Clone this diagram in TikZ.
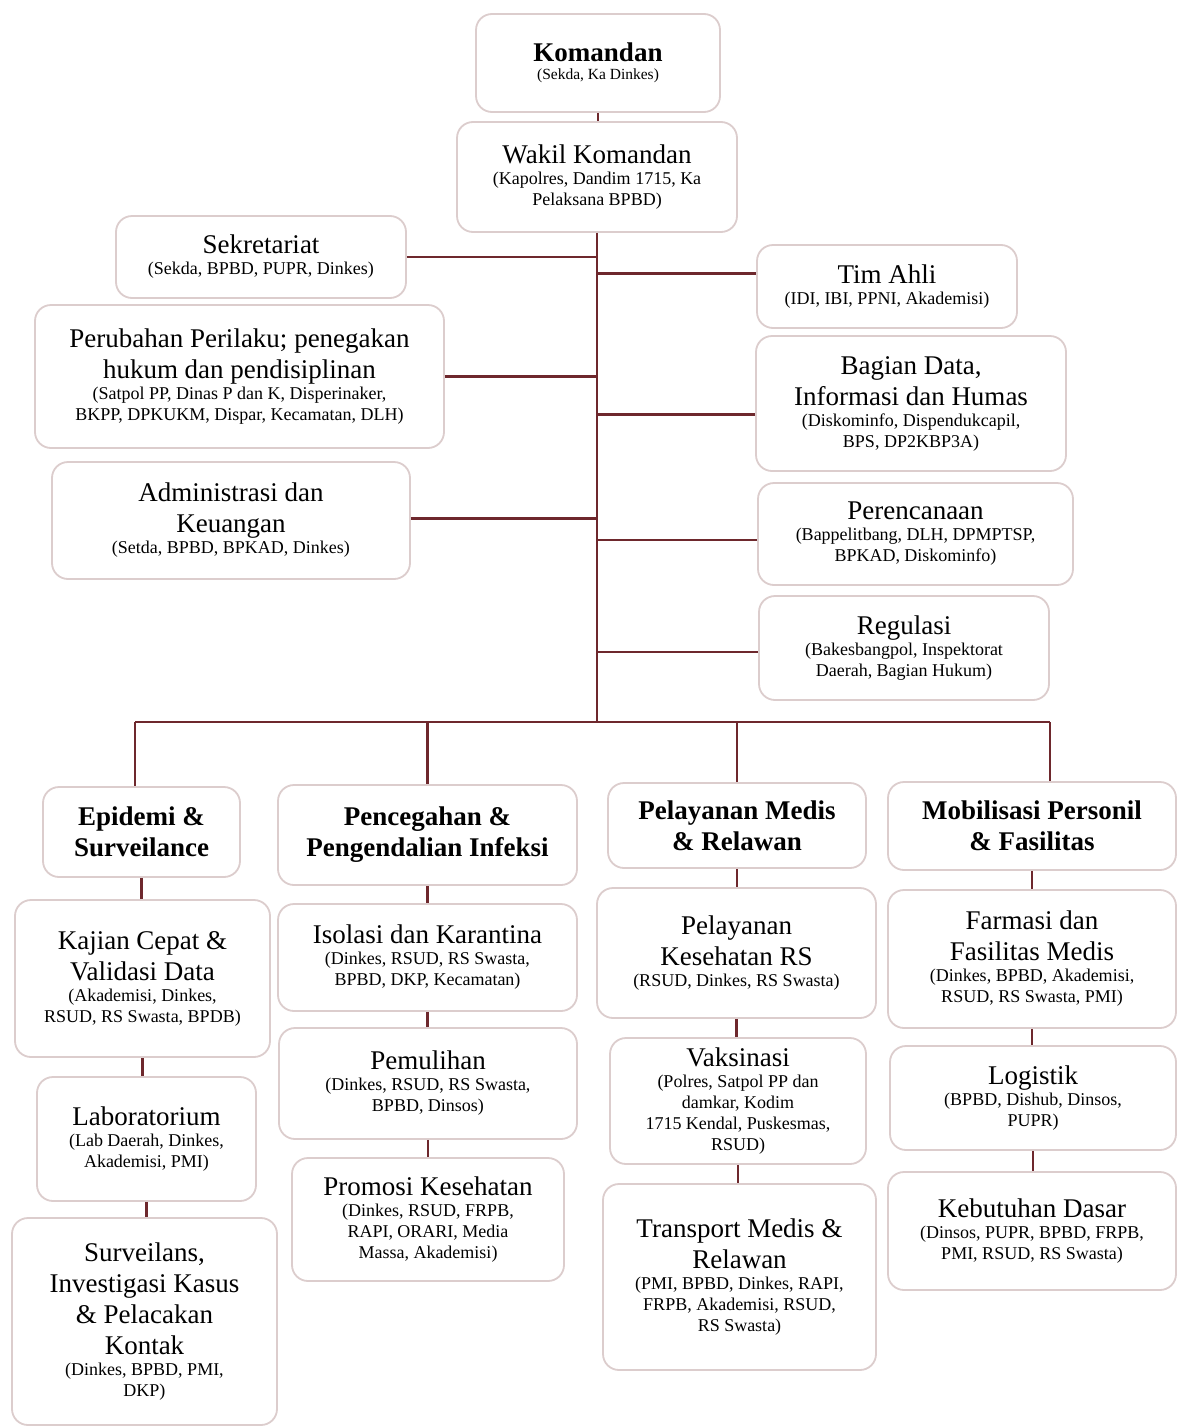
\documentclass[tikz,border=0pt]{standalone}
\usepackage{fontspec}
\setmainfont{Liberation Serif}
\setlength\parindent{0pt}
\definecolor{connc}{RGB}{110,40,45}
\definecolor{boxline}{RGB}{220,205,205}
\newcommand\ttl{\fontsize{27}{31}\selectfont}
\newcommand\subf{\fontsize{18}{21}\selectfont}
\newcommand\subs{\fontsize{15.5}{18}\selectfont}
\tikzset{
  box/.style 2 args={draw=boxline, line width=1.8pt, rounded corners=16pt, fill=white,
    align=flush center, inner sep=0pt, text width=#1, minimum height=#2, font=\ttl},
  conn/.style={draw=connc, line width=2.4pt},
}
\begin{document}
\begin{tikzpicture}[x=1pt,y=-1pt]
\useasboundingbox[fill=white] (0,0) rectangle (1179,1427);
% top
\node[box={244pt}{98pt}] (kom) at (598,63) {\bfseries Komandan\par\subs\mdseries (Sekda, Ka Dinkes)\par};
\node[box={280pt}{110pt}] (wk) at (597,177) {Wakil Komandan\par\subf (Kapolres, Dandim 1715, Ka\\Pelaksana BPBD)\par};
% left
\node[box={290pt}{82pt}] (sek) at (261,257) {Sekretariat\par\subf (Sekda, BPBD, PUPR, Dinkes)\par};
\node[box={409pt}{143pt}] (per) at (239.5,376.5) {Perubahan Perilaku; penegakan\\hukum dan pendisiplinan\par\subf (Satpol PP, Dinas P dan K, Disperinaker,\\BKPP, DPKUKM, Dispar, Kecamatan, DLH)\par};
\node[box={358pt}{117pt}] (adm) at (231,520.5) {Administrasi dan\\Keuangan\par\subf (Setda, BPBD, BPKAD, Dinkes)\par};
% right
\node[box={260pt}{83pt}] (tim) at (887,286.5) {Tim Ahli\par\subf (IDI, IBI, PPNI, Akademisi)\par};
\node[box={310pt}{135pt}] (bag) at (911,403.5) {Bagian Data,\\Informasi dan Humas\par\subf (Diskominfo, Dispendukcapil,\\BPS, DP2KBP3A)\par};
\node[box={315pt}{102pt}] (pren) at (915.5,534) {Perencanaan\par\subf (Bappelitbang, DLH, DPMPTSP,\\BPKAD, Diskominfo)\par};
\node[box={290pt}{104pt}] (reg) at (904,648) {Regulasi\par\subf (Bakesbangpol, Inspektorat\\Daerah, Bagian Hukum)\par};
% column 1
\node[box={197pt}{90pt}] (epi) at (141.5,832) {\bfseries Epidemi \&\\Surveilance};
\node[box={255pt}{157pt}] (kaj) at (142.5,978.5) {Kajian Cepat \&\\Validasi Data\par\subf (Akademisi, Dinkes,\\RSUD, RS Swasta, BPDB)\par};
\node[box={219pt}{124pt}] (lab) at (146.5,1139) {Laboratorium\par\subf (Lab Daerah, Dinkes,\\Akademisi, PMI)\par};
\node[box={265pt}{207pt}] (sur) at (144.5,1321.5) {Surveilans,\\Investigasi Kasus\\\& Pelacakan\\Kontak\par\subf (Dinkes, BPBD, PMI,\\DKP)\par};
% column 2
\node[box={299pt}{100pt}] (pen) at (427.5,835) {\bfseries Pencegahan \&\\Pengendalian Infeksi};
\node[box={299pt}{107pt}] (iso) at (427.5,957.5) {Isolasi dan Karantina\par\subf (Dinkes, RSUD, RS Swasta,\\BPBD, DKP, Kecamatan)\par};
\node[box={298pt}{111pt}] (pem) at (428,1083.5) {Pemulihan\par\subf (Dinkes, RSUD, RS Swasta,\\BPBD, Dinsos)\par};
\node[box={272pt}{123pt}] (pro) at (428,1219.5) {Promosi Kesehatan\par\subf (Dinkes, RSUD, FRPB,\\RAPI, ORARI, Media\\Massa, Akademisi)\par};
% column 3
\node[box={258pt}{85pt}] (pel) at (737,825.5) {\bfseries Pelayanan Medis\\\& Relawan};
\node[box={279pt}{130pt}] (pks) at (736.5,953) {Pelayanan\\Kesehatan RS\par\subf (RSUD, Dinkes, RS Swasta)\par};
\node[box={256pt}{126pt}] (vak) at (738,1101) {Vaksinasi\par\subf (Polres, Satpol PP dan\\damkar, Kodim\\1715 Kendal, Puskesmas,\\RSUD)\par};
\node[box={273pt}{186pt}] (tra) at (739.5,1277) {Transport Medis \&\\Relawan\par\subf (PMI, BPBD, Dinkes, RAPI,\\FRPB, Akademisi, RSUD,\\RS Swasta)\par};
% column 4
\node[box={288pt}{88pt}] (mob) at (1032,826) {\bfseries Mobilisasi Personil\\\& Fasilitas};
\node[box={288pt}{138pt}] (far) at (1032,959) {Farmasi dan\\Fasilitas Medis\par\subf (Dinkes, BPBD, Akademisi,\\RSUD, RS Swasta, PMI)\par};
\node[box={286pt}{104pt}] (log) at (1033,1098) {Logistik\par\subf (BPBD, Dishub, Dinsos,\\PUPR)\par};
\node[box={288pt}{118pt}] (keb) at (1032,1231) {Kebutuhan Dasar\par\subf (Dinsos, PUPR, BPBD, FRPB,\\PMI, RSUD, RS Swasta)\par};
% connectors
\coordinate (busL) at (135,722);
\coordinate (busR) at (1050,722);
\draw[conn] (kom.south) -- (kom.south |- wk.north);
\draw[conn] (wk.south) -- (wk.south |- busL);
\draw[conn] (sek.east) -- (sek.east -| wk.south);
\draw[conn] (per.east) -- (per.east -| wk.south);
\draw[conn] ([yshift=2pt]adm.east) -- ([yshift=2pt]adm.east -| wk.south);
\draw[conn] ([yshift=13pt]tim.west) -- ([yshift=13pt]tim.west -| wk.south);
\draw[conn] ([yshift=-11pt]bag.west) -- ([yshift=-11pt]bag.west -| wk.south);
\draw[conn] ([yshift=-6pt]pren.west) -- ([yshift=-6pt]pren.west -| wk.south);
\draw[conn] ([yshift=-4pt]reg.west) -- ([yshift=-4pt]reg.west -| wk.south);
\draw[conn] (busL) -- (busR);
\draw[conn] (busL) -- (busL |- epi.north);
\draw[conn] (pen.north |- busL) -- (pen.north);
\draw[conn] (pel.north |- busL) -- (pel.north);
\draw[conn] (busR) -- (busR |- mob.north);
\draw[conn] (epi.south) -- (epi.south |- kaj.north);
\draw[conn] (kaj.south) -- (kaj.south |- lab.north);
\draw[conn] (lab.south) -- (lab.south |- sur.north);
\draw[conn] (pen.south) -- (pen.south |- iso.north);
\draw[conn] (iso.south) -- (iso.south |- pem.north);
\draw[conn] (pem.south) -- (pem.south |- pro.north);
\draw[conn] (pel.south) -- (pel.south |- pks.north);
\draw[conn] (pks.south) -- (pks.south |- vak.north);
\draw[conn] (vak.south) -- (vak.south |- tra.north);
\draw[conn] (mob.south) -- (mob.south |- far.north);
\draw[conn] (far.south) -- (far.south |- log.north);
\draw[conn] (log.south) -- (log.south |- keb.north);
\end{tikzpicture}
\end{document}
